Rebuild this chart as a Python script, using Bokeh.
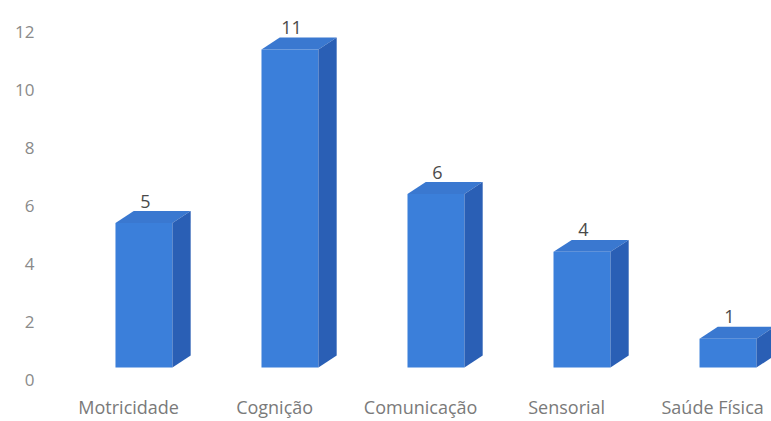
from bokeh.plotting import figure
from bokeh.models import FixedTicker, ColumnDataSource
from bokeh.embed import file_html
from bokeh.resources import INLINE
from bokeh.core.properties import value

categories = ["Motricidade", "Cognição", "Comunicação", "Sensorial", "Saúde Física"]
counts = [5, 11, 6, 4, 1]
y_ticks = [0, 2, 4, 6, 8, 10, 12]

W = 0.39      # front face width (category units)
DX = 0.125    # depth shift in x
DY = 0.414    # depth shift in y
BASE = 0.414  # front face bottom

xs = list(range(len(categories)))

front = ColumnDataSource(dict(
    left=[x - W / 2 for x in xs], right=[x + W / 2 for x in xs],
    bottom=[BASE] * len(xs), top=[BASE + c for c in counts]))

top_xs, top_ys, side_xs, side_ys = [], [], [], []
for x, c in zip(xs, counts):
    l, r, t, b = x - W / 2, x + W / 2, BASE + c, BASE
    top_xs.append([l, r, r + DX, l + DX])
    top_ys.append([t, t, t + DY, t + DY])
    side_xs.append([r, r + DX, r + DX, r])
    side_ys.append([b, b + DY, t + DY, t])

p = figure(width=771, height=421, output_backend="svg", toolbar_location=None,
           x_range=(-0.64, 4.298), y_range=(-0.241, 12.414),
           min_border_left=50, min_border_right=0, min_border_top=20, min_border_bottom=34)

p.quad(source=front, left="left", right="right", bottom="bottom", top="top",
       fill_color="#3b7fda", line_color=None)
p.patches(top_xs, top_ys, fill_color="#3a78d0", line_color=None)
p.patches(side_xs, side_ys, fill_color="#2a5fb5", line_color=None)

p.text(x=[x + 0.01 for x in xs], y=[BASE + c + DY + 0.12 for c in counts],
       text=[str(c) for c in counts], text_align="center", text_baseline="bottom",
       text_font=value("Open Sans"), text_font_size="18px", text_color="#4a4a4a")

p.grid.visible = False
p.outline_line_color = None
p.background_fill_color = "white"
p.border_fill_color = "white"

p.yaxis.ticker = FixedTicker(ticks=y_ticks)
p.yaxis.axis_line_color = None
p.yaxis.major_tick_line_color = None
p.yaxis.minor_tick_line_color = None
p.yaxis.major_label_standoff = 10
p.yaxis.major_label_text_font = "Open Sans"
p.yaxis.major_label_text_font_size = "17px"
p.yaxis.major_label_text_color = "#8a8a8a"

label_pos = [x - 0.105 for x in xs]
p.xaxis.ticker = FixedTicker(ticks=label_pos)
p.xaxis.major_label_overrides = {lp: c for lp, c in zip(label_pos, categories)}
p.xaxis.axis_line_color = None
p.xaxis.major_tick_line_color = None
p.xaxis.minor_tick_line_color = None
p.xaxis.major_label_standoff = 2
p.xaxis.major_label_text_font = "Open Sans"
p.xaxis.major_label_text_font_size = "18px"
p.xaxis.major_label_text_color = "#7a7a7a"

open("out.html", "w").write(file_html(p, INLINE))
